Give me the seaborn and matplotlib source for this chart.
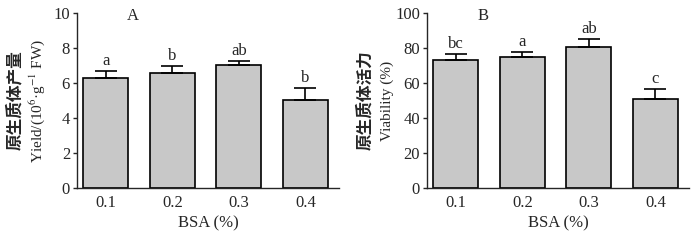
import matplotlib
matplotlib.use("Agg")
import matplotlib.pyplot as plt
import seaborn as sns
import numpy as np
import pandas as pd

# Data
bsa = ["0.1", "0.2", "0.3", "0.4"]
yield_mean = [6.27, 6.56, 7.02, 5.04]
yield_sd = [0.44, 0.42, 0.22, 0.70]
yield_letters = ["a", "b", "ab", "b"]
viab_mean = [73.2, 75.1, 80.8, 50.9]
viab_sd = [3.2, 2.7, 4.5, 5.6]
viab_letters = ["bc", "a", "ab", "c"]

sns.set_style("ticks")
plt.rcParams["font.family"] = ["Liberation Serif", "Noto Sans CJK SC"]
plt.rcParams["mathtext.fontset"] = "stix"
plt.rcParams["axes.linewidth"] = 1.0

fig = plt.figure(figsize=(7, 2.41), dpi=100)
ax_a = fig.add_axes([0.110, 0.219, 0.374, 0.727])
ax_b = fig.add_axes([0.610, 0.219, 0.374, 0.727])

panels = [
    (ax_a, yield_mean, yield_sd, yield_letters, 10, 2, "A",
     "原生质体产量", "Yield/(10$^{6}$·g$^{-1}$ FW)"),
    (ax_b, viab_mean, viab_sd, viab_letters, 100, 20, "B",
     "原生质体活力", "Viability (%)"),
]

for ax, mean, sd, letters, ymax, step, tag, cn_label, en_label in panels:
    df = pd.DataFrame({"BSA": bsa, "value": mean})
    sns.barplot(data=df, x="BSA", y="value", color="#c8c8c8", saturation=1,
                edgecolor="black", linewidth=1.2, width=0.675, errorbar=None, ax=ax)
    # only the upper half of the error bar is shown
    ax.errorbar(np.arange(len(bsa)), mean, yerr=[np.zeros(len(sd)), sd],
                fmt="none", ecolor="black", elinewidth=1.2, capsize=8, capthick=1.2)
    for i, (m, s, lab) in enumerate(zip(mean, sd, letters)):
        ax.annotate(lab, (i, m + s), xytext=(0, 1.5), textcoords="offset points",
                    ha="center", va="bottom", fontsize=12)
    ax.set_xlim(-0.43, 3.5)
    ax.set_ylim(0, ymax)
    ax.set_yticks(np.arange(0, ymax + 1, step))
    ax.tick_params(axis="y", direction="out", length=3, width=1, labelsize=12, pad=2)
    ax.tick_params(axis="x", length=0, labelsize=12, pad=5)
    sns.despine(ax=ax)
    ax.set_xlabel("BSA (%)", fontsize=12, labelpad=3)
    ax.set_ylabel("")
    ax.text(0.214, 0.985, tag, transform=ax.transAxes, ha="center", va="center",
            fontsize=12)
    # two-line y label: Chinese line + English line
    ax.text(-0.153, 0.5, en_label, transform=ax.transAxes, rotation=90,
            ha="center", va="center", fontsize=11)
    ax.text(-0.237, 0.5, cn_label, transform=ax.transAxes, rotation=90,
            ha="center", va="center", fontsize=12, fontweight="bold",
            family=["Noto Sans CJK SC", "DejaVu Sans"])

fig.savefig("out.png", dpi=100)
